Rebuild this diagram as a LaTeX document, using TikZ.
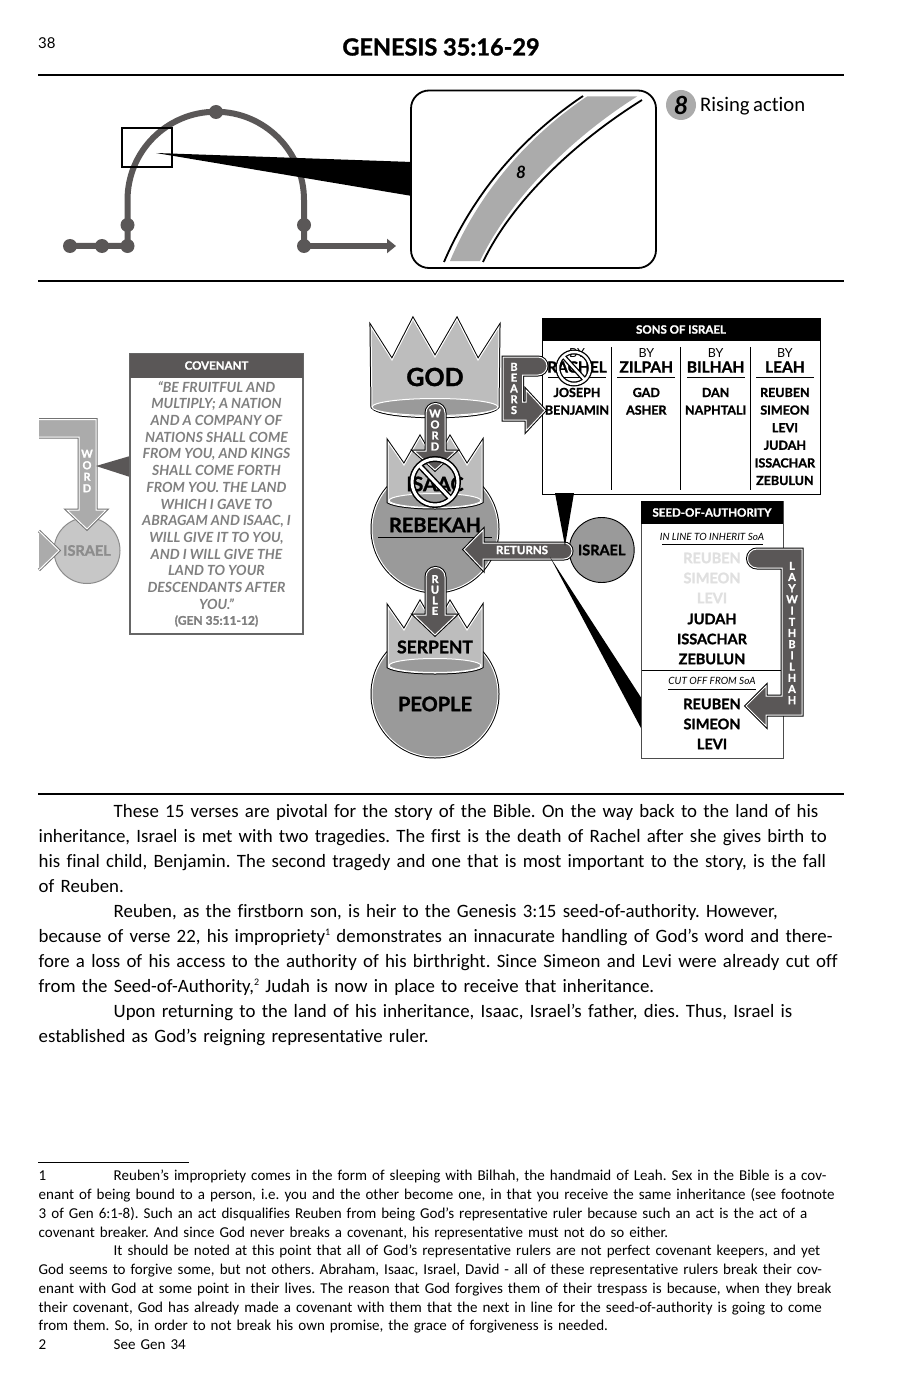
\documentclass[tikz,border=0pt]{standalone}
\usepackage{fontspec}
\setmainfont{Carlito}[Ligatures=CommonOff, WordSpace=0.75]
\newfontfamily\marca[BoldFeatures={FakeBold=1.3}]{Lato}
\usepackage{xcolor}
\usetikzlibrary{arrows.meta}
\usetikzlibrary{positioning}
\definecolor{escuro}{HTML}{5A5757}
\definecolor{medio}{HTML}{9A9A9A}
\definecolor{claro}{HTML}{BDBDBD}
\definecolor{faixa}{HTML}{ABABAB}
\newcommand{\fs}[2]{\fontsize{#1}{#2}\selectfont}
\newcommand{\marcanota}[1]{\raisebox{7pt}{\fs{10}{10}#1}}
\frenchspacing
\tikzset{
  halo/.style={preaction={draw=#1, line width=3pt}, draw=white, line width=1pt},
  halo/.default=black,
  rule/.style={line width=1.6pt},
  fino/.style={line width=0.8pt},
  title/.style={font=\marca\fs{23.5}{28}\bfseries, inner sep=0pt},
  trilho/.style={draw=escuro, line width=6pt},
  ponto/.style={circle, fill=escuro, minimum size=14pt, inner sep=0pt},
  rosto/.style={font=\marca\fs{#1}{#1}\bfseries, inner sep=0pt, align=center},
  rosto/.default=20,
  pilha/.style={font=\marca\fs{11}{#1}\bfseries, text=white, inner sep=0pt, align=center},
  head/.style={font=\marca\fs{11.5}{14}\bfseries, text=white, inner sep=0pt},
  by/.style={font=\marca\fs{12.5}{14}, inner sep=0pt},
  pai/.style={font=\marca\fs{15.5}{18}\bfseries, inner sep=0pt},
  filho/.style={font=\marca\fs{12.5}{14}\bfseries, inner sep=0pt},
  semente/.style={font=\marca\fs{14.5}{18}\bfseries, inner sep=0pt},
  nota/.style={font=\marca\fs{10}{12}\itshape, inner sep=0pt},
  corpo/.style={anchor=north west, inner sep=0pt, align=left, text width=880pt},
  nao/.style={line width=#1, draw=black},
}
\begin{document}
\begin{tikzpicture}[x=1pt, y=-1pt, on grid]
  \useasboundingbox (0,0) rectangle (919,1388);
  \fill[white] (0,0) rectangle (919,1388);

  % page head
  \node[anchor=west, font=\marca\fs{15}{18}, inner sep=0pt] (pagina) at (38,43) {38};
  \node[title] (titulo) at (441,47) {GENESIS 35:16-29};
  \draw[rule] (38,75) -- (844,75);
  \draw[rule] (38,281) -- (844,281);
  \draw[rule] (38,794) -- (844,794);

  % plot line
  \draw[trilho] (70,246) -- (127.5,246) -- (127.5,200) arc[start angle=180, end angle=360, radius=88.25] -- (304,246);
  \draw[trilho, -{Triangle[length=9pt, width=14pt]}] (304,246) -- (396,246);
  \node[ponto] (p1) at (70,246) {};
  \node[ponto] (p2) at (102,246) {};
  \node[ponto] (p3) at (127.5,246) {};
  \node[ponto] (p4) at (127.5,225) {};
  \node[ponto] (p5) at (216,112) {};
  \node[ponto] (p6) at (304,225) {};
  \node[ponto] (p7) at (304,246) {};
  \node[draw, line width=1.8pt, minimum width=50pt, minimum height=39pt, inner sep=0pt] (lente) at (147.3,147.8) {};

  % zoomed part of the line
  \fill[black] (156,153) -- (412,162) -- (412,196) -- cycle;
  \draw[line width=1.8pt, rounded corners=18pt, fill=white] (411,90.5) rectangle (656,268);
  \fill[faixa] (450,261) .. controls (480,190) and (530,135) .. (587,96.5) -- (637,96.5) .. controls (568,140) and (508,202) .. (480,261) -- cycle;
  \draw[line width=1.8pt] (444,262) .. controls (475,190) and (525,135) .. (583,96);
  \draw[line width=1.8pt] (483,262) .. controls (510,205) and (570,145) .. (642,100);
  \node[font=\marca\fs{17}{18}\bfseries\itshape, inner sep=0pt] (oito) at (521,172) {8};
  \node[circle, fill=faixa, minimum size=30pt, inner sep=0pt, font=\marca\fs{25}{25}\bfseries\itshape] (legenda) at (681,105) {8};
  \node[anchor=west, font=\fs{20.7}{24}, inner sep=0pt] (subida) at (700,106) {Rising action};

  % faded part, left
  \node[circle, fill=claro!85!white, draw=black!45, line width=1pt, minimum size=66pt, inner sep=0pt, text=black!45, font=\marca\fs{14.5}{16}\bfseries] (israelA) at (87,550.5) {ISRAEL};
  \draw[fill=faixa, halo=black!55] (39,419.5) -- (96,419.5) -- (96,510) -- (106,510) -- (87,529) -- (67,510) -- (79,510) -- (79,437) -- (39,437);
  \node[pilha=11.5] (palavraA) at (87,471) {W\\O\\R\\D};
  \draw[fill=faixa, halo=black!55] (39,531) -- (59,550.5) -- (39,570);
  \fill[escuro] (96,466) -- (130,456) -- (130,477) -- cycle;

  \draw[fill=white, draw=black!60, line width=1.2pt] (130,353.5) rectangle (303,634);
  \node[fill=escuro, minimum width=173pt, minimum height=24pt, inner sep=0pt, head] (covenant) at (216.5,365.5) {COVENANT};
  \node[font=\marca\fs{14}{16.7}\bfseries\itshape, text=black!50, inner sep=0pt, align=center, anchor=north] (verso) at (216.5,381)
    {“BE FRUITFUL AND\\MULTIPLY; A NATION\\AND A COMPANY OF\\NATIONS SHALL COME\\FROM YOU, AND KINGS\\SHALL COME FORTH\\FROM YOU. THE LAND\\WHICH I GAVE TO\\ABRAGAM AND ISAAC, I\\WILL GIVE IT TO YOU,\\AND I WILL GIVE THE\\LAND TO YOUR\\DESCENDANTS AFTER\\YOU.”};
  \node[font=\marca\fs{12}{14}\bfseries, text=black!50, inner sep=0pt] (gen) at (216.5,621) {(GEN 35:11-12)};

  % god
  \draw[fill=claro, halo] (371,327) -- (392,360) -- (413,319) -- (435,357) -- (457,319) -- (478,360) -- (499,327) -- (498,407) .. controls (490,420) and (380,420) .. (372,407) -- cycle;
  \draw[fill=medio, draw=white, line width=1pt] (435,407) ellipse[x radius=63, y radius=8.5];
  \node[rosto=25] (god) at (435,377) {GOD};

  % people and serpent
  \node[circle, fill=medio, halo, minimum size=126pt, inner sep=0pt] (povo) at (435,694) {};
  \node[rosto] (people) at (435,704) {PEOPLE};
  \draw[fill=claro, halo] (388,607) -- (404,630) -- (420,602) -- (435,628) -- (450,602) -- (467,630) -- (482,607) -- (482,667) .. controls (470,675) and (400,675) .. (388,667) -- cycle;
  \draw[fill=medio, draw=white, line width=1pt] (435,665.5) ellipse[x radius=46, y radius=7];
  \node[rosto=17.5] (serpent) at (435,647) {SERPENT};

  % rebekah and isaac
  \node[circle, fill=medio, halo, minimum size=126pt, inner sep=0pt] (rebekah) at (435,529) {};
  \node[rosto] (rebekahT) at (435,525) {REBEKAH};
  \draw[fino] (378,537) -- (492,537);
  \draw[fill=claro, halo] (388,442) -- (404,465) -- (420,437) -- (435,463) -- (450,437) -- (467,465) -- (482,442) -- (482,502) .. controls (470,510) and (400,510) .. (388,502) -- cycle;
  \draw[fill=medio, draw=white, line width=1pt] (435,500.5) ellipse[x radius=46, y radius=7];
  \node[rosto] (isaac) at (435,484) {ISAAC};

  % word and rule
  \draw[fill=escuro, halo] (426,413) arc[start angle=180, end angle=360, radius=9.5] -- (445,451) -- (456,451) -- (435,470) -- (414,451) -- (426,451) -- cycle;
  \node[pilha=11] (palavra) at (435,430) {W\\O\\R\\D};
  \draw[fill=escuro, halo] (426,577) arc[start angle=180, end angle=360, radius=9.5] -- (445,615) -- (456,615) -- (435,635) -- (414,615) -- (426,615) -- cycle;
  \node[pilha=10.6] (rule) at (435,595) {R\\U\\L\\E};

  % not isaac
  \draw[nao=6pt] (435,482) circle[radius=23];
  \draw[nao=6pt] (419,465) -- (451,499);
  \draw[white, line width=3pt] (435,482) circle[radius=23];
  \draw[white, line width=3pt] (419,465) -- (451,499);

  % sons of israel
  \draw[fill=white, line width=1pt] (542.5,318) rectangle (820,494);
  \node[fill=black, minimum width=278pt, minimum height=23pt, inner sep=0pt, head] (filhos) at (681,329.5) {SONS OF ISRAEL};
  \draw[fino] (611.7,347) -- (611.7,490);
  \draw[fino] (680.7,347) -- (680.7,490);
  \draw[fino] (750.3,347) -- (750.3,490);
  \draw[fino] (548,377) -- (606,377);
  \draw[fino] (617,377) -- (675,377);
  \draw[fino] (687,377) -- (745,377);
  \draw[fino] (756,377) -- (814,377);

  \node[by] (byR) at (577,353) {BY};
  \node[by, right=69.3pt of byR] (byZ) {BY};
  \node[by, right=69.3pt of byZ] (byB) {BY};
  \node[by, right=69.3pt of byB] (byL) {BY};
  \node[pai, below=14pt of byR] (rachel) {RACHEL};
  \node[pai, below=14pt of byZ] (zilpah) {ZILPAH};
  \node[pai, below=14pt of byB] (bilhah) {BILHAH};
  \node[pai, below=14pt of byL] (leah) {LEAH};

  \node[filho, below=25.5pt of rachel] (joseph) {JOSEPH};
  \node[filho, below=17.6pt of joseph] (benjamin) {BENJAMIN};
  \node[filho, below=25.5pt of zilpah] (gad) {GAD};
  \node[filho, below=17.6pt of gad] (asher) {ASHER};
  \node[filho, below=25.5pt of bilhah] (dan) {DAN};
  \node[filho, below=17.6pt of dan] (naphtali) {NAPHTALI};
  \node[filho, below=25.5pt of leah] (reuben) {REUBEN};
  \node[filho, below=17.6pt of reuben] (simeon) {SIMEON};
  \node[filho, below=17.6pt of simeon] (levi) {LEVI};
  \node[filho, below=17.6pt of levi] (judah) {JUDAH};
  \node[filho, below=17.6pt of judah] (issachar) {ISSACHAR};
  \node[filho, below=17.6pt of issachar] (zebulun) {ZEBULUN};

  % bears
  \draw[fill=escuro, halo] (503,357) -- (538,357) arc[start angle=-90, end angle=90, radius=9] -- (522.5,375) -- (522.5,402) -- (526,402) -- (526,390) -- (545,410.5) -- (526,431) -- (526,420) -- (503,420) -- cycle;
  \node[pilha=10.8] (bears) at (514,388.5) {B\\E\\A\\R\\S};

  % not rachel
  \draw[nao=5pt] (574,368) circle[radius=16];
  \draw[nao=5pt] (563,356) -- (585,380);
  \draw[white, line width=2.4pt] (574,368) circle[radius=16];
  \draw[white, line width=2.4pt] (563,356) -- (585,380);

  % israel and returns
  \node[circle, fill=medio, draw=black, line width=0.9pt, minimum size=65pt, inner sep=0pt, font=\marca\fs{14.5}{16}\bfseries] (israelB) at (601.7,550) {ISRAEL};
  \draw[fill=escuro, halo] (564,543) arc[start angle=-90, end angle=90, radius=8] -- (483,559) -- (483,569.5) -- (464,549.5) -- (483,530) -- (483,543) -- cycle;
  \node[head] (returns) at (522,550) {RETURNS};
  \fill[black] (555,493) -- (574,493) -- (565,546) -- cycle;
  \fill[black] (550,557) -- (642,699) -- (642,730) -- cycle;

  % seed of authority
  \draw[fill=white, line width=0.8pt, draw=black!70] (641.5,501) rectangle (783,758.5);
  \node[fill=black, minimum width=142pt, minimum height=23pt, inner sep=0pt, head] (soa) at (712,512.5) {SEED-OF-AUTHORITY};
  \node[nota] (linha) at (712,537) {IN LINE TO INHERIT SoA};
  \draw[line width=0.6pt] (662,544) -- (763,544);
  \node[semente, text=black!12] (reubenA) at (712,558) {REUBEN};
  \node[semente, text=black!12, below=20pt of reubenA] (simeonA) {SIMEON};
  \node[semente, text=black!12, below=20pt of simeonA] (leviA) {LEVI};
  \node[semente, below=21pt of leviA] (judahA) {JUDAH};
  \node[semente, below=20pt of judahA] (issacharA) {ISSACHAR};
  \node[semente, below=20pt of issacharA] (zebulunA) {ZEBULUN};
  \draw[fino] (641.5,670) -- (783,670);
  \node[nota] (corte) at (712,681) {CUT OFF FROM SoA};
  \draw[line width=0.6pt] (668,689) -- (756,689);
  \node[semente, below=23pt of corte] (reubenB) {REUBEN};
  \node[semente, below=20pt of reubenB] (simeonB) {SIMEON};
  \node[semente, below=20pt of simeonB] (leviB) {LEVI};

  % lay with bilhah
  \draw[fill=escuro, halo] (757,549) -- (802,549) -- (802,715) -- (766,715) -- (766,726) -- (746,706) -- (766,686) -- (766,696) -- (782,696) -- (782,568) -- (757,568) arc[start angle=90, end angle=270, radius=9.5] -- cycle;
  \node[pilha=11.2] (lay) at (792,633) {L\\A\\Y\\W\\I\\T\\H\\B\\I\\L\\H\\A\\H};

  % text
  \node[corpo, font=\fs{18.85}{25}] (texto) at (38.5,804.5)
    {\hspace*{75pt}These 15 verses are pivotal for the story of the Bible. On the way back to the land of his\\
     inheritance, Israel is met with two tragedies. The first is the death of Rachel after she gives birth to\\
     his final child, Benjamin. The second tragedy and one that is most important to the story, is the fall\\
     of Reuben.\\
     \hspace*{75pt}Reuben, as the firstborn son, is heir to the Genesis 3:15 seed-of-authority. However,\\
     because of verse 22, his impropriety\marcanota{1} demonstrates an innacurate handling of God’s word and there-\\
     fore a loss of his access to the authority of his birthright. Since Simeon and Levi were already cut off\\
     from the Seed-of-Authority,\marcanota{2} Judah is now in place to receive that inheritance.\\
     \hspace*{75pt}Upon returning to the land of his inheritance, Isaac, Israel’s father, dies. Thus, Israel is\\
     established as God’s reigning representative ruler.};

  % footnotes
  \draw[rule] (38,1162.5) -- (189,1162.5);
  \node[corpo, font=\fs{15.05}{18.75}] (notas) at (38.5,1170)
    {\makebox[75pt][l]{1}Reuben’s impropriety comes in the form of sleeping with Bilhah, the handmaid of Leah. Sex in the Bible is a cov-\\
     enant of being bound to a person, i.e. you and the other become one, in that you receive the same inheritance (see footnote\\
     3 of Gen 6:1-8). Such an act disqualifies Reuben from being God’s representative ruler because such an act is the act of a\\
     covenant breaker. And since God never breaks a covenant, his representative must not do so either.\\
     \hspace*{75pt}It should be noted at this point that all of God’s representative rulers are not perfect covenant keepers, and yet\\
     God seems to forgive some, but not others. Abraham, Isaac, Israel, David - all of these representative rulers break their cov-\\
     enant with God at some point in their lives. The reason that God forgives them of their trespass is because, when they break\\
     their covenant, God has already made a covenant with them that the next in line for the seed-of-authority is going to come\\
     from them. So, in order to not break his own promise, the grace of forgiveness is needed.\\
     \makebox[75pt][l]{2}See Gen 34};
\end{tikzpicture}
\end{document}
